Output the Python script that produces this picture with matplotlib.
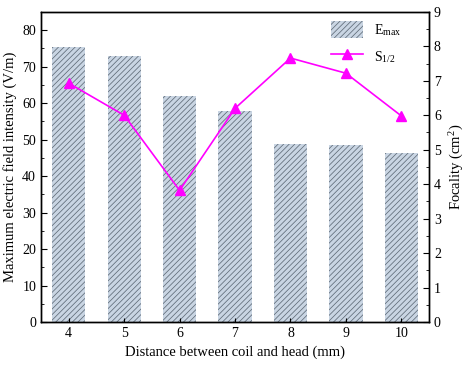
import matplotlib
matplotlib.use("Agg")
import matplotlib.pyplot as plt
from matplotlib.ticker import MultipleLocator

plt.rcParams['font.family'] = ['Liberation Serif', 'DejaVu Serif']
plt.rcParams['mathtext.fontset'] = 'stix'
plt.rcParams['hatch.linewidth'] = 0.55

# -------------------------
# Data
# -------------------------
distance = [4, 5, 6, 7, 8, 9, 10]
e_max = [75.4, 72.8, 61.9, 57.7, 48.8, 48.4, 46.4]
focality = [6.93, 6.0, 3.82, 6.2, 7.66, 7.22, 5.98]

# -------------------------
# Plot
# -------------------------
fig = plt.figure(figsize=(4.71, 3.71), dpi=100)
ax = fig.add_axes([0.087, 0.132, 0.824, 0.836])

# edgecolor sets hatch colour; linewidth 0 hides the outline
bars = ax.bar(distance, e_max, width=0.6, color='#c9d5e3', edgecolor='#5f6b78',
              linewidth=0, hatch='//////', label='E$_{\\mathregular{max}}$')
ax.set_xlim(3.5, 10.5)
ax.set_ylim(0, 85)
ax.set_xticks(distance)
ax.yaxis.set_major_locator(MultipleLocator(10))
ax.yaxis.set_minor_locator(MultipleLocator(5))
ax.set_xlabel("Distance between coil and head (mm)", fontsize=10.5)
ax.set_ylabel("Maximum electric field intensity (V/m)", fontsize=10.5)
ax.tick_params(direction='in', labelsize=10)
ax.tick_params(which='minor', direction='in', length=2)
ax.tick_params(axis='x', which='major', length=3)
ax.tick_params(axis='y', which='major', length=4)

ax2 = ax.twinx()
line, = ax2.plot(distance, focality, color='#ff00ff', marker='^', markersize=7,
                 linewidth=1.2, label='S$_{\\mathregular{1/2}}$')
ax2.set_ylim(0, 9)
ax2.yaxis.set_major_locator(MultipleLocator(1))
ax2.yaxis.set_minor_locator(MultipleLocator(0.5))
ax2.set_ylabel("Focality (cm$^{\\mathregular{2}}$)", fontsize=10.5)
ax2.tick_params(direction='in', labelsize=10, length=4)
ax2.tick_params(which='minor', direction='in', length=2)

for a in (ax, ax2):
    for s in a.spines.values():
        s.set_linewidth(1.0)

ax2.legend([bars, line], [bars.get_label(), line.get_label()], loc='upper right',
           frameon=False, fontsize=10, handlelength=2.3, handleheight=1.5,
           labelspacing=0.7, bbox_to_anchor=(0.96, 1.01))

fig.savefig("out.png", dpi=100)
